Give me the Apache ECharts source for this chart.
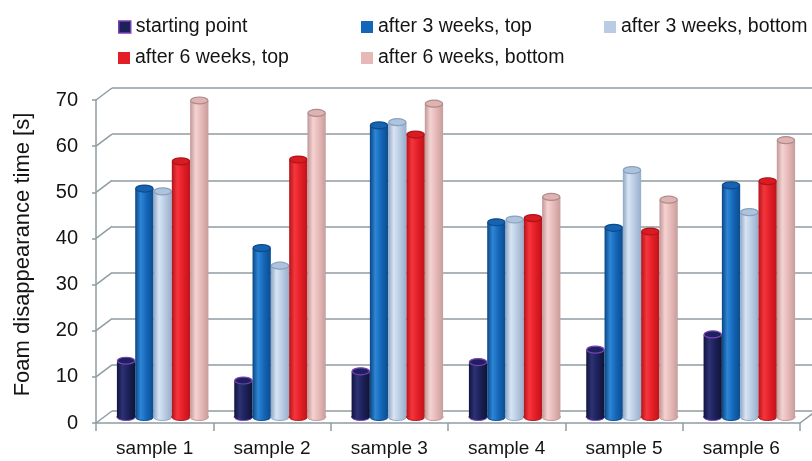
<!DOCTYPE html>
<html>
<head>
<meta charset="utf-8">
<script src="https://cdn.jsdelivr.net/npm/echarts@6/dist/echarts.min.js"></script>
<style>
  html, body { margin: 0; padding: 0; background: #ffffff; }
  #chart { width: 812px; height: 461px; }
</style>
</head>
<body>
<div id="chart"></div>
<script>
// Foam disappearance time per sample, measured at several storage stages
const categories = ['sample 1', 'sample 2', 'sample 3', 'sample 4', 'sample 5', 'sample 6'];
const seriesNames = ['starting point', 'after 3 weeks, top', 'after 3 weeks, bottom', 'after 6 weeks, top', 'after 6 weeks, bottom'];
const startingPoint = [12.2, 7.9, 9.9, 11.9, 14.6, 17.9];
const after3WeeksTop = [49.5, 36.6, 63.2, 42.2, 41.0, 50.2];
const after3WeeksBottom = [48.9, 32.8, 63.9, 42.8, 53.5, 44.4];
const after6WeeksTop = [55.4, 55.8, 61.2, 43.1, 40.2, 51.1];
const after6WeeksBottom = [68.6, 65.9, 67.9, 47.7, 47.1, 60.0];
const yTicks = [0, 10, 20, 30, 40, 50, 60, 70];

const seriesValues = [startingPoint, after3WeeksTop, after3WeeksBottom, after6WeeksTop, after6WeeksBottom];

// Cylinder shading: left edge, highlight, body, right edge, cap fill, cap outline, base outline
const palettes = [
  { edgeL: '#10143c', hi: '#2c3274', mid: '#1c2159', edgeR: '#0f1335', cap: '#1d2160', capStroke: '#7d40b4', baseStroke: '#7d40b4', legend: '#1d2159', legendBorder: '#7d40b4' },
  { edgeL: '#0a4683', hi: '#2f86d6', mid: '#1467b8', edgeR: '#0c4b8d', cap: '#1763b0', capStroke: '#0c4b8d', baseStroke: '#0c4b8d', legend: '#1467b8' },
  { edgeL: '#8ea6c4', hi: '#d8e4f3', mid: '#b9cce4', edgeR: '#97adc9', cap: '#aec3dd', capStroke: '#8aa1be', baseStroke: '#8ea6c4', legend: '#b9cce4' },
  { edgeL: '#b3141a', hi: '#f5363d', mid: '#e41e26', edgeR: '#bb151b', cap: '#d91b23', capStroke: '#ad1319', baseStroke: '#b3141a', legend: '#e41e26' },
  { edgeL: '#c29695', hi: '#f3d3d2', mid: '#e6b9b8', edgeR: '#c69d9c', cap: '#dfb3b2', capStroke: '#ad8b8a', baseStroke: '#c29695', legend: '#e6b9b8' }
];

const FONT = '"Liberation Sans", Arial, sans-serif';
const TEXT_COLOR = '#141414';
const GRID_COLOR = '#8f9ca2';

// Front plane, back wall, and the mid-depth plane the cylinders stand in
const FRONT = { left: 96, top: 100, width: 704, height: 323 };
const BACK = { left: 112, top: 88, width: 704, height: 323 };
const MID = { left: 104, top: 94, width: 704, height: 323 };
const DEPTH_DX = BACK.left - FRONT.left;
const DEPTH_DY = BACK.top - FRONT.top;
const BAR_FRACTION = 0.156;

function cylinderRenderer(k) {
  const pal = palettes[k];
  const n = seriesValues.length;
  return function (params, api) {
    const cat = api.value(0);
    const val = api.value(1);
    const top = api.coord([cat, val]);
    const base = api.coord([cat, 0]);
    const band = api.size([1, 0])[0];
    const w = band * BAR_FRACTION;
    const cx = top[0] + (k - (n - 1) / 2) * w;
    const ry = w * 0.19;
    const body = new echarts.graphic.LinearGradient(0, 0, 1, 0, [
      { offset: 0, color: pal.edgeL },
      { offset: 0.3, color: pal.hi },
      { offset: 0.62, color: pal.mid },
      { offset: 1, color: pal.edgeR }
    ]);
    return {
      type: 'group',
      children: [
        { type: 'ellipse', shape: { cx: cx, cy: base[1], rx: w / 2, ry: ry },
          style: { fill: body, stroke: pal.baseStroke, lineWidth: 1 } },
        { type: 'rect', shape: { x: cx - w / 2, y: top[1], width: w, height: base[1] - top[1] },
          style: { fill: body } },
        { type: 'ellipse', shape: { cx: cx, cy: top[1], rx: w / 2 - 0.5, ry: ry },
          style: { fill: pal.cap, stroke: pal.capStroke, lineWidth: 1.2 } }
      ]
    };
  };
}

// Side-wall and floor edges joining the front axes to the back wall
function depthEdges(params, api) {
  const v = api.value(1);
  const cs = params.coordSys;
  const y = api.coord([0, v])[1];
  const children = [{
    type: 'line',
    shape: { x1: cs.x, y1: y, x2: cs.x + DEPTH_DX, y2: y + DEPTH_DY },
    style: { stroke: GRID_COLOR, lineWidth: 1.5 }
  }];
  if (v === 0) {
    children.push({
      type: 'line',
      shape: { x1: cs.x + cs.width, y1: y, x2: cs.x + cs.width + DEPTH_DX, y2: y + DEPTH_DY },
      style: { stroke: GRID_COLOR, lineWidth: 1.5 }
    });
  }
  return { type: 'group', children: children };
}

const legendCols = [118, 361, 604];
const legendRows = [17, 48];
const legends = seriesNames.map(function (name, i) {
  const pal = palettes[i];
  return {
    left: legendCols[i % 3],
    top: legendRows[Math.floor(i / 3)],
    padding: 0,
    icon: 'rect',
    itemWidth: 12,
    itemHeight: 12,
    selectedMode: false,
    textStyle: { fontFamily: FONT, fontSize: 19.5, color: TEXT_COLOR },
    data: [{
      name: name,
      itemStyle: { color: pal.legend, borderColor: pal.legendBorder || pal.legend, borderWidth: pal.legendBorder ? 1.5 : 0 }
    }]
  };
});

const series = [{
  type: 'custom',
  name: 'depth edges',
  xAxisIndex: 0,
  yAxisIndex: 0,
  silent: true,
  z: 1,
  renderItem: depthEdges,
  data: yTicks.map(function (v) { return [0, v]; })
}];
seriesValues.forEach(function (vals, k) {
  series.push({
    type: 'custom',
    name: seriesNames[k],
    xAxisIndex: 2,
    yAxisIndex: 2,
    z: 3,
    itemStyle: { color: palettes[k].legend },
    renderItem: cylinderRenderer(k),
    encode: { x: 0, y: 1 },
    data: vals.map(function (v, i) { return [i, v]; })
  });
});

const chart = echarts.init(document.getElementById('chart'), null, { renderer: 'canvas' });
chart.setOption({
  animation: false,
  backgroundColor: '#ffffff',
  legend: legends,
  grid: [
    Object.assign({ containLabel: false }, FRONT),
    Object.assign({ containLabel: false }, BACK),
    Object.assign({ containLabel: false }, MID)
  ],
  xAxis: [
    {
      gridIndex: 0, type: 'category', data: categories, boundaryGap: true,
      axisLine: { show: true, lineStyle: { color: GRID_COLOR, width: 1.5 } },
      axisTick: { show: true, length: 8, alignWithLabel: false, lineStyle: { color: GRID_COLOR, width: 1.5 } },
      axisLabel: { fontFamily: FONT, fontSize: 19, color: TEXT_COLOR, margin: 16 },
      splitLine: { show: false }
    },
    {
      gridIndex: 1, type: 'category', data: categories, boundaryGap: true,
      axisLine: { show: false }, axisTick: { show: false }, axisLabel: { show: false }, splitLine: { show: false }
    },
    {
      gridIndex: 2, type: 'category', data: categories, boundaryGap: true,
      axisLine: { show: false }, axisTick: { show: false }, axisLabel: { show: false }, splitLine: { show: false }
    }
  ],
  yAxis: [
    {
      gridIndex: 0, type: 'value', min: 0, max: 70, interval: 10,
      name: 'Foam disappearance time [s]',
      nameLocation: 'middle',
      nameRotate: 90,
      nameGap: 62,
      nameTextStyle: { fontFamily: FONT, fontSize: 22, color: TEXT_COLOR, padding: [0, 0, 0, 14] },
      axisLine: { show: true, lineStyle: { color: GRID_COLOR, width: 1.5 } },
      axisTick: { show: true, length: 4, lineStyle: { color: GRID_COLOR, width: 1.5 } },
      axisLabel: { fontFamily: FONT, fontSize: 20, color: TEXT_COLOR, margin: 18 },
      splitLine: { show: false }
    },
    {
      gridIndex: 1, type: 'value', min: 0, max: 70, interval: 10,
      axisLine: { show: false }, axisTick: { show: false }, axisLabel: { show: false },
      splitLine: { show: true, lineStyle: { color: GRID_COLOR, width: 1.5 } }
    },
    {
      gridIndex: 2, type: 'value', min: 0, max: 70, interval: 10,
      axisLine: { show: false }, axisTick: { show: false }, axisLabel: { show: false }, splitLine: { show: false }
    }
  ],
  series: series
});
</script>
</body>
</html>
